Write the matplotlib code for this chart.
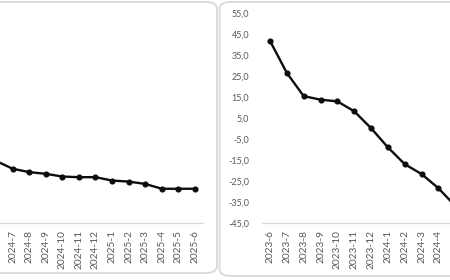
import matplotlib.pyplot as plt
from matplotlib.patches import FancyBboxPatch

# === DATA ===
left_months = ["2024-6", "2024-7", "2024-8", "2024-9", "2024-10", "2024-11", "2024-12",
               "2025-1", "2025-2", "2025-3", "2025-4", "2025-5", "2025-6"]
left_values = [-15.4, -19.1, -20.7, -21.5, -22.8, -23.1, -23.1,
               -24.7, -25.2, -26.3, -28.6, -28.6, -28.6]

right_months = ["2023-6", "2023-7", "2023-8", "2023-9", "2023-10", "2023-11", "2023-12",
                "2024-1", "2024-2", "2024-3", "2024-4", "2024-5"]
right_values = [41.6, 26.4, 15.4, 13.7, 12.9, 8.2, 0.2,
                -8.9, -16.9, -21.6, -28.3, -36.7]

y_ticks = [-45, -35, -25, -15, -5, 5, 15, 25, 35, 45, 55]
y_ticklabels = [f"{v:.1f}".replace(".", ",") for v in y_ticks]

# === STYLE ===
plt.rcParams['font.family'] = ['Lato', 'DejaVu Sans']
label_color = "#595959"
axis_color = "#d9d9d9"
line_color = "#0d0d0d"

W, H = 450, 280
fig = plt.figure(figsize=(4.5, 2.8), dpi=100)


def px_box(x0, y0, x1, y1):
    # pixel box (top-left origin) -> figure fraction rect
    return [x0 / W, 1 - y1 / H, (x1 - x0) / W, (y1 - y0) / H]


# --- panel frames (rounded cards), drawn under the axes ---
for (x0, y0, x1, y1) in [(-20, 2, 217, 273), (219.5, 2, 475, 276)]:
    r = px_box(x0, y0, x1, y1)
    card = FancyBboxPatch((r[0], r[1]), r[2], r[3],
                          boxstyle="round,pad=0,rounding_size=0.025",
                          transform=fig.transFigure, facecolor="white",
                          edgecolor=axis_color, linewidth=1.3, zorder=-5)
    fig.patches.append(card)


def draw_panel(ax, months, values, show_y=True):
    x = list(range(len(months)))
    ax.plot(x, values, color=line_color, linewidth=1.7, marker='o',
            markersize=3.4, zorder=3, clip_on=False)
    ax.set_xlim(-0.5, len(months) - 0.5)
    ax.set_ylim(-45, 55)
    ax.set_xticks(x)
    ax.set_xticklabels(months, rotation=90, fontsize=7.3, color=label_color)
    ax.set_yticks(y_ticks)
    if show_y:
        ax.set_yticklabels(y_ticklabels, fontsize=6.5, color=label_color)
    else:
        ax.set_yticklabels([])
    ax.tick_params(axis='both', length=0)
    ax.tick_params(axis='x', pad=5)
    ax.tick_params(axis='y', pad=9)
    for side in ['top', 'right', 'left']:
        ax.spines[side].set_visible(False)
    ax.spines['bottom'].set_color(axis_color)
    ax.spines['bottom'].set_linewidth(0.9)
    ax.patch.set_alpha(0)


# Left panel: only its right part is visible in the crop
ax_left = fig.add_axes(px_box(-12.2, 12.7, 203.2, 223.3))
draw_panel(ax_left, left_months, left_values, show_y=False)

# Right panel: only its left part is visible in the crop
ax_right = fig.add_axes(px_box(261.6, 12.7, 463.6, 223.3))
draw_panel(ax_right, right_months, right_values)

fig.savefig("out.png", dpi=100)
